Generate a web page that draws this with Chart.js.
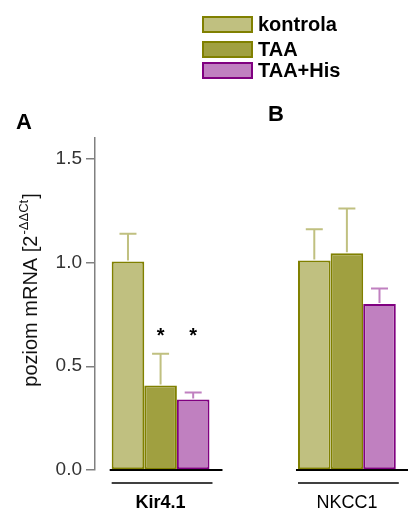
<!DOCTYPE html>
<html>
<head>
<meta charset="utf-8">
<script src="https://cdn.jsdelivr.net/npm/chart.js@4/dist/chart.umd.min.js"></script>
<style>
  html, body { margin: 0; padding: 0; background: #fff; }
  canvas { display: block; }
</style>
</head>
<body>
<canvas id="chart" width="408" height="514"></canvas>
<script>
// Gene categories (panel A: Kir4.1, panel B: NKCC1)
const categories = ['Kir4.1', 'NKCC1'];
const panelLetters = ['A', 'B'];

// Relative mRNA level (2^-ΔΔCt), mean and upper SD per group
const seriesNames = ['kontrola', 'TAA', 'TAA+His'];
const kontrola = [1.005, 1.01];
const taa = [0.407, 1.045];
const taaHis = [0.34, 0.80];
const kontrolaErr = [0.133, 0.15];
const taaErr = [0.153, 0.215];
const taaHisErr = [0.033, 0.075];

// Significance markers vs. kontrola
const kontrolaSig = ['', ''];
const taaSig = ['*', ''];
const taaHisSig = ['*', ''];
const sigLevel = 0.665;

const yTicks = [0, 0.5, 1.0, 1.5];

const fills = ['#c0c080', '#a0a040', '#c080c0'];
const borders = ['#808000', '#808000', '#800080'];
const whiskers = ['#c0c080', '#c0c080', '#c080c0'];

const valueSets = [kontrola, taa, taaHis];
const errSets = [kontrolaErr, taaErr, taaHisErr];
const sigSets = [kontrolaSig, taaSig, taaHisSig];

const FONT = '"Liberation Sans", Arial, sans-serif';

const datasets = seriesNames.map((name, d) => ({
  label: name,
  data: categories.map((c, i) => ({ x: i, y: valueSets[d][i] })),
  backgroundColor: fills[d],
  borderColor: borders[d],
  borderWidth: 2,
  borderSkipped: false,
  categoryPercentage: 0.525,
  barPercentage: 1.0
}));

const decorations = {
  id: 'decorations',
  beforeDatasetsDraw(chart) {
    const ctx = chart.ctx;
    const y0 = chart.scales.y.getPixelForValue(0);
    const first = chart.getDatasetMeta(0).data;
    const last = chart.getDatasetMeta(2).data;
    ctx.save();
    ctx.strokeStyle = '#000';
    ctx.lineWidth = 2;
    categories.forEach((c, i) => {
      const l = first[i].x - first[i].width / 2;
      const r = last[i].x + last[i].width / 2;
      ctx.beginPath();
      ctx.moveTo(l - 2, y0);
      ctx.lineTo(r + 13, y0);
      ctx.stroke();
    });
    ctx.restore();
  },
  afterDatasetsDraw(chart) {
    const ctx = chart.ctx;
    const ys = chart.scales.y;
    ctx.save();
    // error bars (upper whisker only)
    seriesNames.forEach((n, d) => {
      const meta = chart.getDatasetMeta(d);
      meta.data.forEach((el, i) => {
        const yTop = ys.getPixelForValue(valueSets[d][i] + errSets[d][i]);
        ctx.strokeStyle = whiskers[d];
        ctx.lineWidth = 2;
        ctx.beginPath();
        ctx.moveTo(el.x, el.y - 1);
        ctx.lineTo(el.x, yTop);
        ctx.moveTo(el.x - 8.5, yTop);
        ctx.lineTo(el.x + 8.5, yTop);
        ctx.stroke();
        const s = sigSets[d][i];
        if (s) {
          ctx.fillStyle = '#000';
          ctx.font = 'bold 20px ' + FONT;
          ctx.textAlign = 'center';
          ctx.textBaseline = 'middle';
          ctx.fillText(s, el.x, ys.getPixelForValue(sigLevel) + 4);
        }
      });
    });
    ctx.restore();
  },
  afterDraw(chart) {
    const ctx = chart.ctx;
    const first = chart.getDatasetMeta(0).data;
    const last = chart.getDatasetMeta(2).data;
    const y0 = chart.scales.y.getPixelForValue(0);
    ctx.save();

    // group brackets under the axis
    ctx.strokeStyle = '#000';
    ctx.lineWidth = 1.5;
    categories.forEach((c, i) => {
      const l = first[i].x - first[i].width / 2;
      const r = last[i].x + last[i].width / 2;
      ctx.beginPath();
      ctx.moveTo(l, y0 + 13);
      ctx.lineTo(r + 3, y0 + 13);
      ctx.stroke();
    });

    // panel letters
    ctx.fillStyle = '#000';
    ctx.font = 'bold 22px ' + FONT;
    ctx.textAlign = 'left';
    ctx.textBaseline = 'alphabetic';
    ctx.fillText(panelLetters[0], 16, 129);
    ctx.fillText(panelLetters[1], 268, 121);

    // legend
    const lx = 203, lw = 49, lh = 15;
    const rows = [17, 42, 63];
    ctx.font = 'bold 20px ' + FONT;
    ctx.textBaseline = 'middle';
    seriesNames.forEach((n, d) => {
      ctx.fillStyle = fills[d];
      ctx.fillRect(lx, rows[d], lw, lh);
      ctx.strokeStyle = borders[d];
      ctx.lineWidth = 2;
      ctx.strokeRect(lx, rows[d], lw, lh);
      ctx.fillStyle = '#000';
      ctx.fillText(n, 258, rows[d] + lh / 2 + 1);
    });

    // y-axis title with superscript
    const main = 'poziom mRNA [2';
    const sup = '-ΔΔCt';
    const tail = ']';
    const mainFont = '20px ' + FONT;
    const supFont = '13px ' + FONT;
    ctx.font = mainFont;
    const wMain = ctx.measureText(main).width;
    const wTail = ctx.measureText(tail).width;
    ctx.font = supFont;
    const wSup = ctx.measureText(sup).width;
    const total = wMain + wSup + wTail + 2;
    ctx.translate(37, 290);
    ctx.rotate(-Math.PI / 2);
    ctx.textBaseline = 'alphabetic';
    ctx.textAlign = 'left';
    ctx.fillStyle = '#111';
    let x = -total / 2;
    ctx.font = mainFont;
    ctx.fillText(main, x, 0);
    x += wMain + 1;
    ctx.font = supFont;
    ctx.fillText(sup, x, -9);
    x += wSup + 1;
    ctx.font = mainFont;
    ctx.fillText(tail, x, 0);
    ctx.restore();
  }
};

new Chart(document.getElementById('chart'), {
  type: 'bar',
  data: { datasets },
  options: {
    responsive: false,
    animation: false,
    devicePixelRatio: 1,
    layout: { padding: { top: 138, left: 0, right: 0, bottom: 0 } },
    plugins: {
      legend: { display: false },
      tooltip: { enabled: false },
      title: { display: false }
    },
    scales: {
      x: {
        type: 'linear',
        offset: false,
        min: -0.352,
        max: 1.328,
        grid: { display: false, drawTicks: false, offset: false },
        border: { display: false },
        afterBuildTicks(scale) {
          scale.ticks = categories.map((c, i) => ({ value: i }));
        },
        afterFit(scale) { scale.height = 44; },
        ticks: {
          autoSkip: false,
          maxRotation: 0,
          padding: 22,
          color: '#000',
          callback: (v, i) => categories[i],
          font: (ctx) => ({
            family: FONT,
            size: 18,
            weight: ctx.index === 0 ? 'bold' : 'normal'
          })
        }
      },
      y: {
        min: 0,
        max: 1.6,
        afterFit(scale) { scale.width = 95; },
        afterBuildTicks(scale) {
          scale.ticks = yTicks.map(v => ({ value: v }));
        },
        grid: {
          drawOnChartArea: false,
          drawTicks: true,
          tickLength: 9,
          color: '#808080',
          lineWidth: 1.5
        },
        border: { color: '#808080', width: 1.5 },
        ticks: {
          padding: 4,
          color: '#333',
          font: { family: FONT, size: 19 },
          callback: v => v.toFixed(1)
        }
      }
    }
  },
  plugins: [decorations]
});
</script>
</body>
</html>
